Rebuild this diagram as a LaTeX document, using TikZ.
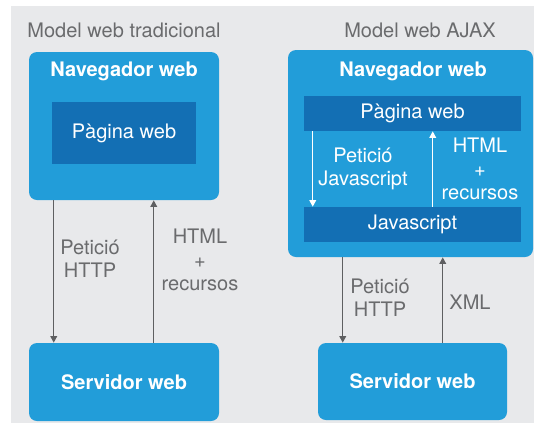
\documentclass[tikz,border=0pt]{standalone}
\usepackage{fontspec}
\setmainfont{TeX Gyre Heros}
\usetikzlibrary{fit,arrows.meta}
\definecolor{bgray}{HTML}{E8E9EB}
\definecolor{lblue}{HTML}{229DD9}
\definecolor{dblue}{HTML}{136FB4}
\definecolor{tgray}{HTML}{6A6B6D}
\definecolor{agray}{HTML}{5E5F61}
\tikzset{
  every node/.style={font=\fontsize{15}{17.5}\selectfont},
  bluebox/.style={fill=lblue, rounded corners=6pt, inner sep=0pt},
  darkbar/.style={fill=dblue, inner sep=0pt},
  wtitle/.style={text=white, font=\fontsize{15}{17.5}\selectfont\bfseries, inner sep=0pt},
  wtext/.style={text=white, inner sep=0pt},
  glabel/.style={text=tgray, align=center, inner sep=0pt},
  wlabel/.style={text=white, align=center, inner sep=0pt},
  arr/.style={draw=agray, line width=1.1pt, -{Triangle[width=5pt,length=5pt]}},
  warr/.style={draw=white, line width=1.1pt, -{Triangle[width=5pt,length=5pt]}}
}
\begin{document}
\begin{tikzpicture}[x=0.75pt,y=-0.75pt]
\useasboundingbox (0,0) rectangle (534,425);
\fill[white] (0,0) rectangle (534,425);
\fill[bgray] (11,6) rectangle (534,423);

% ---------- left: traditional ----------
\node[glabel] (ttl) at (124,30) {Model web tradicional};
\node[bluebox, fit={(29,52)(219,200)}] (navL) {};
\node[wtitle] (navLt) at (124,71) {Navegador web};
\node[darkbar, fit={(52,102)(196,164)}, label={[wtext]center:Pàgina web}] (pageL) {};
\node[bluebox, fit={(29,343)(219,421)}, label={[wtitle]center:Servidor web}] (servL) {};
\draw[arr] ([xshift=18.75pt]navL.south west) -- ([xshift=18.75pt]servL.north west);
\draw[arr] ([xshift=93.75pt]servL.north west) -- ([xshift=93.75pt]navL.south west);
\node[glabel] (reqL) at (90,259) {Petició\\HTTP};
\node[glabel] (resL) at (200,260) {HTML\\+\\recursos};

% ---------- right: AJAX ----------
\node[glabel] (ttr) at (420,30) {Model web AJAX};
\node[bluebox, fit={(288,50)(533,257)}] (navR) {};
\node[wtitle] (navRt) at (413,71) {Navegador web};
\node[darkbar, fit={(304,96)(521,131)}, label={[wtext]center:Pàgina web}] (pageR) {};
\node[darkbar, fit={(304,207)(521,242)}, label={[wtext]center:Javascript}] (jsR) {};
\draw[warr] ([xshift=6.75pt]pageR.south west) -- ([xshift=6.75pt]jsR.north west);
\draw[warr] ([xshift=96.75pt]jsR.north west) -- ([xshift=96.75pt]pageR.south west);
\node[wlabel] (reqJ) at (363,169) {Petició\\Javascript};
\node[wlabel] (resJ) at (480,169) {HTML\\+\\recursos};
\node[bluebox, fit={(318,343)(507,420)}, label={[wtitle]center:Servidor web}] (servR) {};
\draw[arr] ([xshift=18.75pt]servR.north west |- navR.south) -- ([xshift=18.75pt]servR.north west);
\draw[arr] ([xshift=93.75pt]servR.north west) -- ([xshift=93.75pt]servR.north west |- navR.south);
\node[glabel] (reqR) at (380,298) {Petició\\HTTP};
\node[glabel] (resR) at (470,302) {XML};
\end{tikzpicture}
\end{document}
